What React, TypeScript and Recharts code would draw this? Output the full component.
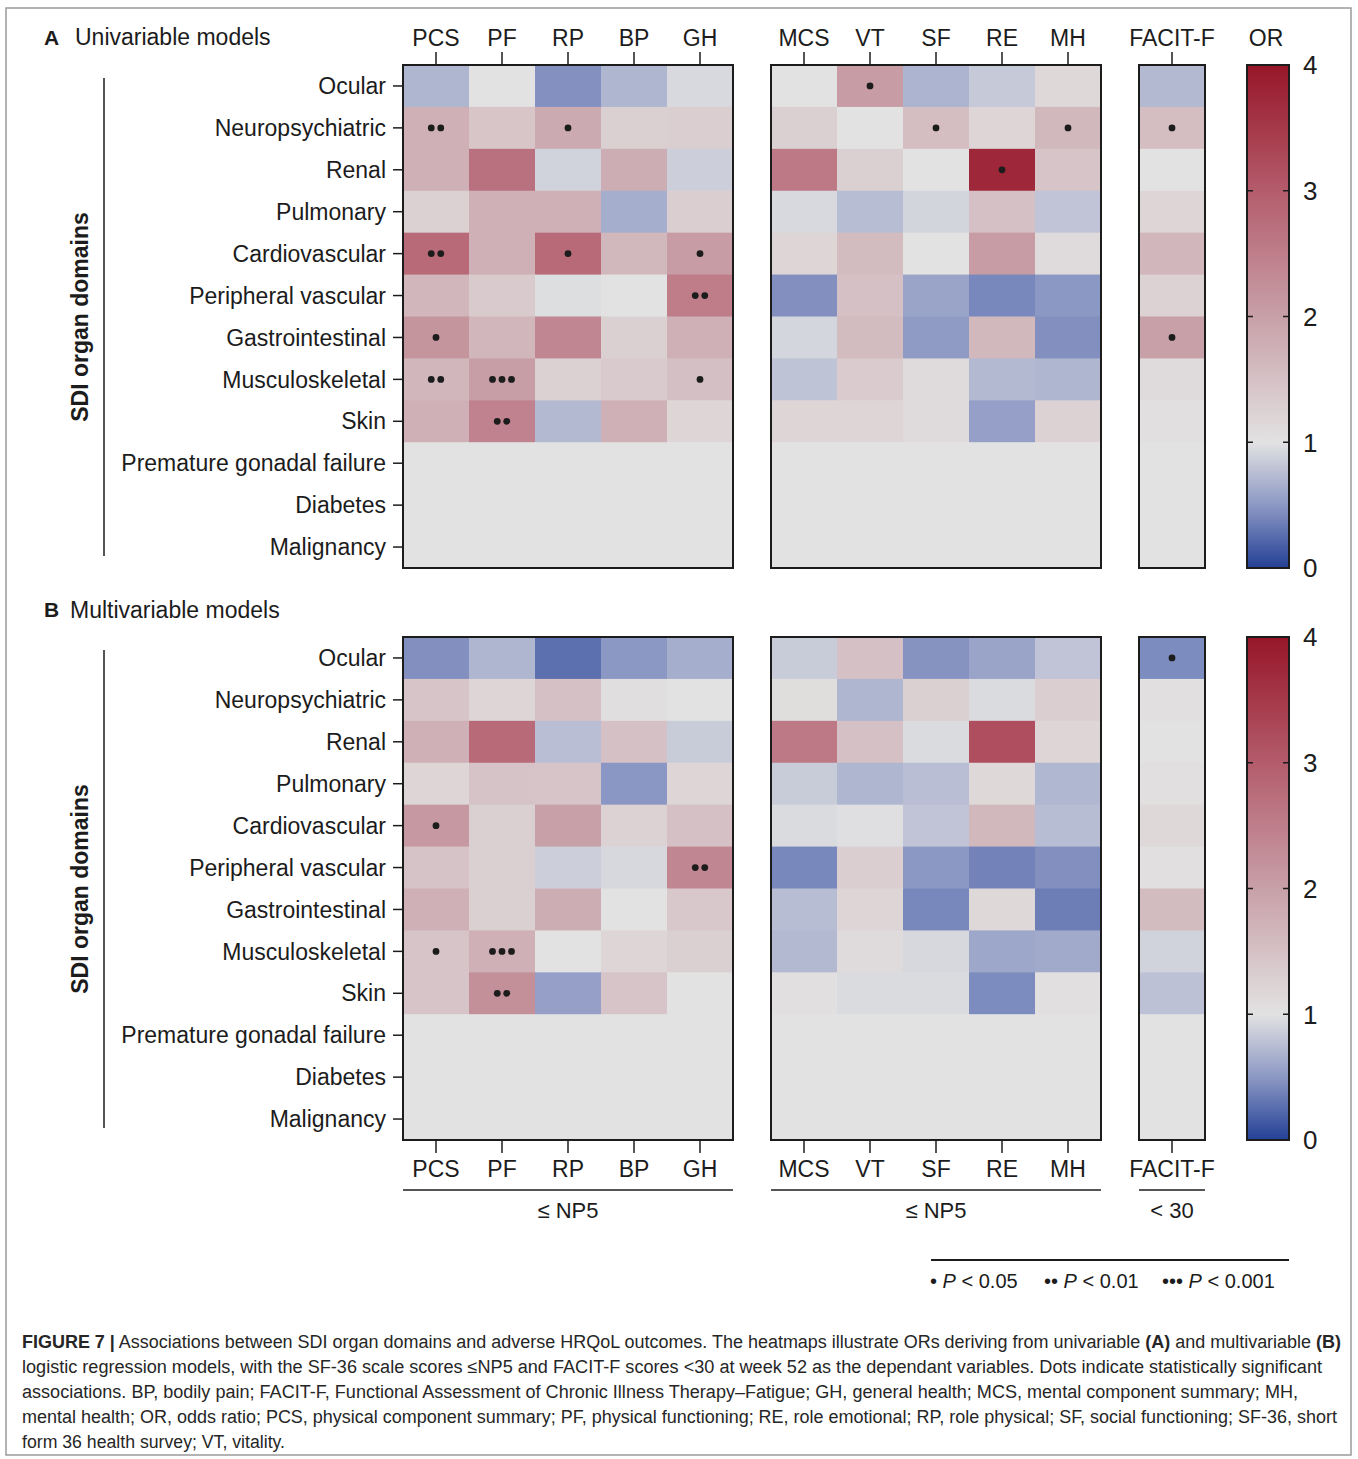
import React from 'react';
import { Bar, BarChart, Scatter, ScatterChart, XAxis, YAxis } from 'recharts';

const rows = [
  'Ocular',
  'Neuropsychiatric',
  'Renal',
  'Pulmonary',
  'Cardiovascular',
  'Peripheral vascular',
  'Gastrointestinal',
  'Musculoskeletal',
  'Skin',
  'Premature gonadal failure',
  'Diabetes',
  'Malignancy',
];
const physicalCols = ['PCS', 'PF', 'RP', 'BP', 'GH'];
const mentalCols = ['MCS', 'VT', 'SF', 'RE', 'MH'];
const facitCols = ['FACIT-F'];
const orTicks = [0, 1, 2, 3, 4];

// odds ratios, one row per organ domain (rows missing at the end = not estimable)
const uniPhysical = [
  [0.7, 1.0, 0.46, 0.7, 0.94],
  [1.76, 1.44, 1.85, 1.29, 1.3],
  [1.76, 2.69, 0.9, 1.8, 0.87],
  [1.27, 1.76, 1.76, 0.65, 1.3],
  [2.8, 1.76, 2.8, 1.64, 2.06],
  [1.67, 1.36, 0.97, 1.0, 2.52],
  [2.16, 1.67, 2.38, 1.29, 1.76],
  [1.67, 2.03, 1.27, 1.36, 1.52],
  [1.76, 2.44, 0.72, 1.76, 1.2],
];
const uniMental = [
  [1.0, 2.06, 0.69, 0.83, 1.15],
  [1.29, 1.0, 1.55, 1.2, 1.64],
  [2.56, 1.29, 1.0, 3.75, 1.45],
  [0.94, 0.75, 0.91, 1.5, 0.8],
  [1.2, 1.58, 1.0, 2.06, 1.12],
  [0.45, 1.5, 0.58, 0.41, 0.5],
  [0.92, 1.58, 0.52, 1.64, 0.45],
  [0.79, 1.35, 1.1, 0.72, 0.7],
  [1.2, 1.2, 1.1, 0.55, 1.25],
];
const uniFacit = [0.72, 1.55, 1.0, 1.2, 1.67, 1.25, 2.0, 1.1, 1.05];

const multiPhysical = [
  [0.45, 0.7, 0.27, 0.5, 0.65],
  [1.45, 1.2, 1.5, 1.06, 1.0],
  [1.76, 2.8, 0.76, 1.5, 0.85],
  [1.2, 1.47, 1.45, 0.49, 1.2],
  [2.1, 1.29, 2.0, 1.25, 1.5],
  [1.47, 1.29, 0.87, 0.93, 2.38],
  [1.76, 1.29, 1.8, 1.0, 1.4],
  [1.45, 1.76, 1.0, 1.2, 1.29],
  [1.45, 2.25, 0.55, 1.45, 1.0],
];
const multiMental = [
  [0.85, 1.5, 0.47, 0.58, 0.8],
  [1.08, 0.7, 1.29, 0.95, 1.3],
  [2.56, 1.5, 0.95, 3.2, 1.2],
  [0.85, 0.7, 0.76, 1.15, 0.71],
  [0.95, 0.98, 0.8, 1.64, 0.75],
  [0.41, 1.3, 0.5, 0.38, 0.45],
  [0.75, 1.2, 0.41, 1.15, 0.35],
  [0.72, 1.12, 0.93, 0.6, 0.62],
  [1.05, 0.95, 0.95, 0.43, 1.05],
];
const multiFacit = [0.43, 1.05, 1.0, 1.05, 1.15, 1.05, 1.58, 0.9, 0.78];

// number of significance dots (1: p<0.05, 2: p<0.01, 3: p<0.001)
const uniPhysicalSig = [
  [0, 0, 0, 0, 0],
  [2, 0, 1, 0, 0],
  [0, 0, 0, 0, 0],
  [0, 0, 0, 0, 0],
  [2, 0, 1, 0, 1],
  [0, 0, 0, 0, 2],
  [1, 0, 0, 0, 0],
  [2, 3, 0, 0, 1],
  [0, 2, 0, 0, 0],
];
const uniMentalSig = [
  [0, 1, 0, 0, 0],
  [0, 0, 1, 0, 1],
  [0, 0, 0, 1, 0],
];
const uniFacitSig = [0, 1, 0, 0, 0, 0, 1, 0, 0];
const multiPhysicalSig = [
  [0, 0, 0, 0, 0],
  [0, 0, 0, 0, 0],
  [0, 0, 0, 0, 0],
  [0, 0, 0, 0, 0],
  [1, 0, 0, 0, 0],
  [0, 0, 0, 0, 2],
  [0, 0, 0, 0, 0],
  [1, 3, 0, 0, 0],
  [0, 2, 0, 0, 0],
];
const multiMentalSig: number[][] = [];
const multiFacitSig = [1, 0, 0, 0, 0, 0, 0, 0, 0];

const INK = '#1c1c1c';
const FONT = "'Liberation Sans', Arial, sans-serif";
const CELL_W = 66;
const PLOT_H = 503;
const ROW_H = PLOT_H / rows.length;
const BLOCK_X = [403, 771, 1139];
const COLORBAR_X = 1247;
const COLORBAR_W = 42;
const TOP_A = 65;
const TOP_B = 637;

// diverging scale: blue (0) - grey (1) - red (4)
const SCALE: [number, number[]][] = [
  [0, [36, 64, 150]],
  [0.5, [140, 152, 196]],
  [1, [226, 226, 226]],
  [2, [200, 160, 168]],
  [3, [180, 92, 108]],
  [4, [150, 22, 40]],
];

function orColor(v: number | null): string {
  if (v == null) return 'rgb(226,226,226)';
  const x = Math.max(0, Math.min(4, v));
  for (let i = 1; i < SCALE.length; i++) {
    const [v0, c0] = SCALE[i - 1];
    const [v1, c1] = SCALE[i];
    if (x <= v1) {
      const t = (x - v0) / (v1 - v0);
      return `rgb(${c0.map((c, k) => Math.round(c + t * (c1[k] - c))).join(',')})`;
    }
  }
  return 'rgb(150,22,40)';
}

const col = (a: number[]) => a.map((v) => [v]);

const renderCell = (p: any) => {
  const { cx, cy, payload } = p;
  const n = payload.sig;
  return (
    <g>
      <rect
        x={cx - CELL_W / 2}
        y={cy - ROW_H / 2}
        width={CELL_W + 0.6}
        height={ROW_H + 0.6}
        fill={orColor(payload.or)}
      />
      {Array.from({ length: n }, (_, k) => (
        <circle key={k} cx={cx + (k - (n - 1) / 2) * 9.5} cy={cy} r={3.4} fill={INK} />
      ))}
    </g>
  );
};

interface HeatmapProps {
  left: number;
  top: number;
  cols: string[];
  values: number[][];
  sig: number[][];
  labels?: boolean;
  side: 'top' | 'bottom';
}

function Heatmap({ left, top, cols, values, sig, labels, side }: HeatmapProps) {
  const plotW = cols.length * CELL_W;
  const yW = labels ? 310 : 0;
  const axisH = 56;
  const padX = 40;
  const padY = 4;
  const data = rows.flatMap((r, i) =>
    cols.map((c, j) => ({
      x: j,
      y: i,
      or: values[i]?.[j] ?? null,
      sig: sig[i]?.[j] ?? 0,
    })),
  );
  const chartTop = side === 'top' ? top - axisH - padY : top - padY;
  return (
    <div style={{ position: 'absolute', left: left - yW - padX, top: chartTop }}>
      <ScatterChart
        width={yW + plotW + 2 * padX}
        height={PLOT_H + axisH + 2 * padY}
        margin={{ top: padY, right: padX, bottom: padY, left: padX }}
      >
        <XAxis
          type="number"
          dataKey="x"
          orientation={side}
          domain={[-0.5, cols.length - 0.5]}
          allowDataOverflow
          ticks={cols.map((_, j) => j)}
          tickFormatter={(j) => cols[j]}
          interval={0}
          height={axisH}
          axisLine={false}
          tickSize={13}
          tickMargin={side === 'top' ? 6 : 8}
          tick={{ fill: INK, fontSize: 23 }}
          tickLine={{ stroke: INK, strokeWidth: 1.5 }}
        />
        <YAxis
          type="number"
          dataKey="y"
          reversed
          domain={[-0.5, rows.length - 0.5]}
          allowDataOverflow
          ticks={rows.map((_, i) => i)}
          tickFormatter={(i) => rows[i]}
          interval={0}
          hide={!labels}
          width={yW}
          axisLine={false}
          tickSize={10}
          tickMargin={7}
          tick={{ fill: INK, fontSize: 23 }}
          tickLine={{ stroke: INK, strokeWidth: 1.5 }}
        />
        <Scatter data={data} shape={renderCell} isAnimationActive={false} />
      </ScatterChart>
    </div>
  );
}

function ColorBar({ top }: { top: number }) {
  const id = `or-grad-${top}`;
  const padX = 4;
  const padY = 20;
  const axisW = 60;
  const tick = (p: any) => (
    <g>
      <line x1={padX} x2={padX + 6} y1={p.y} y2={p.y} stroke={INK} strokeWidth={1.5} />
      <line x1={padX + COLORBAR_W - 6} x2={padX + COLORBAR_W} y1={p.y} y2={p.y} stroke={INK} strokeWidth={1.5} />
      <text x={padX + COLORBAR_W + 14} y={p.y} dy="0.36em" fontSize={26} fill={INK}>
        {p.payload.value}
      </text>
    </g>
  );
  return (
    <div style={{ position: 'absolute', left: COLORBAR_X - padX, top: top - padY }}>
      <BarChart
        width={COLORBAR_W + axisW + 2 * padX}
        height={PLOT_H + 2 * padY}
        margin={{ top: padY, right: padX, bottom: padY, left: padX }}
        data={[{ name: 'OR', or: 4 }]}
        barCategoryGap={0}
      >
        <defs>
          <linearGradient id={id} x1="0" y1="0" x2="0" y2="1">
            {[...SCALE].reverse().map(([v, c]) => (
              <stop key={v} offset={`${((4 - v) / 4) * 100}%`} stopColor={`rgb(${c.join(',')})`} />
            ))}
          </linearGradient>
        </defs>
        <XAxis dataKey="name" hide />
        <YAxis
          orientation="right"
          domain={[0, 4]}
          allowDataOverflow
          ticks={orTicks}
          width={axisW}
          axisLine={false}
          tickLine={false}
          tick={tick}
        />
        <Bar dataKey="or" fill={`url(#${id})`} isAnimationActive={false} />
      </BarChart>
    </div>
  );
}

function Panel({ top, phys, ment, facit, physSig, mentSig, facitSig, side }: any) {
  return (
    <>
      <Heatmap left={BLOCK_X[0]} top={top} cols={physicalCols} values={phys} sig={physSig} labels side={side} />
      <Heatmap left={BLOCK_X[1]} top={top} cols={mentalCols} values={ment} sig={mentSig} side={side} />
      <Heatmap left={BLOCK_X[2]} top={top} cols={facitCols} values={col(facit)} sig={col(facitSig)} side={side} />
      <ColorBar top={top} />
    </>
  );
}

// frames drawn over the heatmap blocks and colour bars
function Frames() {
  const boxes = [
    [BLOCK_X[0], physicalCols.length * CELL_W],
    [BLOCK_X[1], mentalCols.length * CELL_W],
    [BLOCK_X[2], facitCols.length * CELL_W],
    [COLORBAR_X, COLORBAR_W],
  ];
  return (
    <svg width={1358} height={1459} style={{ position: 'absolute', left: 0, top: 0, pointerEvents: 'none' }}>
      {[TOP_A, TOP_B].map((t) =>
        boxes.map(([x, w]) => (
          <rect key={`${t}-${x}`} x={x} y={t} width={w} height={PLOT_H} fill="none" stroke={INK} strokeWidth={2} />
        )),
      )}
    </svg>
  );
}

function Overlay() {
  const text = { fill: INK, fontFamily: FONT };
  const capY = [1348, 1373, 1398, 1423, 1448];
  return (
    <svg width={1358} height={1459} style={{ position: 'absolute', left: 0, top: 0 }}>
      <rect x={6} y={8} width={1345} height={1447} fill="none" stroke="#9a9a9a" strokeWidth={1.5} />
      <text x={44} y={45} fontSize={21} fontWeight="bold" {...text}>A</text>
      <text x={75} y={45} fontSize={23} {...text}>Univariable models</text>
      <text x={44} y={617} fontSize={21} fontWeight="bold" {...text}>B</text>
      <text x={70} y={618} fontSize={23} {...text}>Multivariable models</text>
      <text x={1266} y={46} fontSize={23} textAnchor="middle" {...text}>OR</text>
      {[TOP_A, TOP_B].map((t) => (
        <g key={t}>
          <line x1={104} x2={104} y1={t + 13} y2={t + 491} stroke={INK} strokeWidth={1.5} />
          <text
            transform={`translate(80,${t + 252}) rotate(-90)`}
            textAnchor="middle"
            dominantBaseline="central"
            fontSize={23}
            fontWeight="bold"
            {...text}
          >
            SDI organ domains
          </text>
        </g>
      ))}
      <line x1={403} x2={733} y1={1190} y2={1190} stroke={INK} strokeWidth={1.5} />
      <line x1={771} x2={1101} y1={1190} y2={1190} stroke={INK} strokeWidth={1.5} />
      <line x1={1139} x2={1205} y1={1190} y2={1190} stroke={INK} strokeWidth={1.5} />
      <text x={568} y={1218} fontSize={22} textAnchor="middle" {...text}>≤ NP5</text>
      <text x={936} y={1218} fontSize={22} textAnchor="middle" {...text}>≤ NP5</text>
      <text x={1172} y={1218} fontSize={22} textAnchor="middle" {...text}>&lt; 30</text>
      <line x1={931} x2={1289} y1={1260} y2={1260} stroke={INK} strokeWidth={2} />
      <text x={930} y={1288} fontSize={20} {...text}>
        • <tspan fontStyle="italic">P</tspan> &lt; 0.05
      </text>
      <text x={1044} y={1288} fontSize={20} {...text}>
        •• <tspan fontStyle="italic">P</tspan> &lt; 0.01
      </text>
      <text x={1162} y={1288} fontSize={20} {...text}>
        ••• <tspan fontStyle="italic">P</tspan> &lt; 0.001
      </text>
      <g fontSize={18} fill="#262626" fontFamily="'Liberation Sans Narrow', 'Liberation Sans', Arial, sans-serif">
        <text x={22} y={capY[0]} textLength={1319} lengthAdjust="spacingAndGlyphs">
          <tspan fontWeight="bold">FIGURE 7 |</tspan> Associations between SDI organ domains and adverse HRQoL
          outcomes. The heatmaps illustrate ORs deriving from univariable <tspan fontWeight="bold">(A)</tspan> and
          multivariable <tspan fontWeight="bold">(B)</tspan>
        </text>
        <text x={22} y={capY[1]} textLength={1300} lengthAdjust="spacingAndGlyphs">
          logistic regression models, with the SF-36 scale scores ≤NP5 and FACIT-F scores &lt;30 at week 52 as the
          dependant variables. Dots indicate statistically significant
        </text>
        <text x={22} y={capY[2]} textLength={1276} lengthAdjust="spacingAndGlyphs">
          associations. BP, bodily pain; FACIT-F, Functional Assessment of Chronic Illness Therapy–Fatigue; GH, general
          health; MCS, mental component summary; MH,
        </text>
        <text x={22} y={capY[3]} textLength={1315} lengthAdjust="spacingAndGlyphs">
          mental health; OR, odds ratio; PCS, physical component summary; PF, physical functioning; RE, role emotional;
          RP, role physical; SF, social functioning; SF-36, short
        </text>
        <text x={22} y={capY[4]} textLength={263} lengthAdjust="spacingAndGlyphs">
          form 36 health survey; VT, vitality.
        </text>
      </g>
    </svg>
  );
}

export default function App() {
  return (
    <div
      style={{
        position: 'absolute',
        left: 0,
        top: 0,
        width: 1358,
        height: 1459,
        background: '#fff',
        fontFamily: FONT,
      }}
    >
      <Overlay />
      <Panel
        top={TOP_A}
        phys={uniPhysical}
        ment={uniMental}
        facit={uniFacit}
        physSig={uniPhysicalSig}
        mentSig={uniMentalSig}
        facitSig={uniFacitSig}
        side="top"
      />
      <Panel
        top={TOP_B}
        phys={multiPhysical}
        ment={multiMental}
        facit={multiFacit}
        physSig={multiPhysicalSig}
        mentSig={multiMentalSig}
        facitSig={multiFacitSig}
        side="bottom"
      />
      <Frames />
    </div>
  );
}
